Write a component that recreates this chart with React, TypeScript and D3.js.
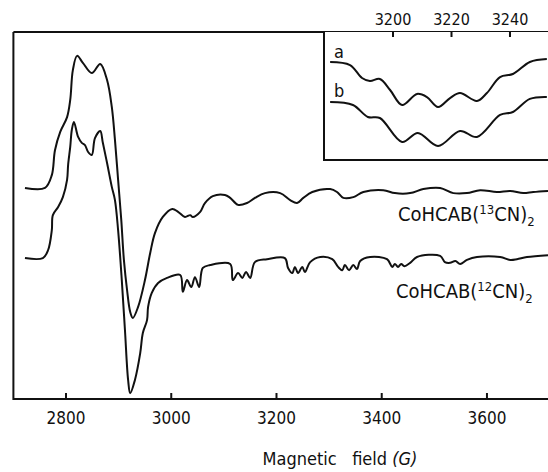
import * as d3 from 'd3';

// EPR spectra, field in gauss, signal in arbitrary units (0..100 across the frame)
const fieldTicks = [2800, 3000, 3200, 3400, 3600];
const insetTicks = [3200, 3220, 3240];

const spectrum13CN: [number, number][] = [
  [2722, 57.5], [2760, 57.5], [2773, 61.0], [2779, 67.8], [2789, 72.8], [2802, 76.8],
  [2808, 81.5], [2813, 89.6], [2821, 93.5], [2832, 91.6], [2849, 88.8], [2865, 91.3],
  [2878, 86.9], [2887, 79.6], [2893, 70.6], [2899, 59.7], [2905, 48.8], [2910, 37.9],
  [2916, 29.7], [2922, 23.7], [2927, 22.1], [2937, 25.1], [2950, 32.4], [2960, 39.8],
  [2969, 45.2], [2984, 49.6], [3002, 51.8], [3013, 51.0], [3026, 49.6], [3036, 50.1],
  [3041, 49.6], [3055, 51.0], [3064, 53.4], [3079, 55.3], [3102, 55.6], [3112, 54.8],
  [3127, 52.9], [3144, 53.4], [3159, 54.8], [3178, 56.1], [3207, 56.1], [3226, 54.2],
  [3239, 53.4], [3251, 54.8], [3268, 56.4], [3302, 57.2], [3315, 56.4], [3327, 54.8],
  [3346, 55.0], [3365, 56.4], [3403, 56.9], [3425, 56.1], [3454, 56.1], [3479, 57.2],
  [3511, 57.5], [3536, 56.1], [3562, 56.1], [3587, 56.9], [3619, 56.4], [3644, 56.7],
  [3669, 56.1], [3688, 56.4], [3716, 56.7],
];

const spectrum12CN: [number, number][] = [
  [2722, 38.4], [2756, 38.4], [2766, 40.6], [2773, 46.0], [2775, 50.1], [2785, 52.3],
  [2794, 55.0], [2802, 59.7], [2804, 63.8], [2808, 68.7], [2811, 73.3], [2815, 75.5],
  [2823, 71.4], [2830, 69.8], [2836, 69.2], [2842, 67.3], [2849, 66.5], [2855, 71.1],
  [2865, 73.0], [2870, 69.8], [2878, 64.3], [2887, 57.8], [2893, 54.2], [2899, 46.0],
  [2906, 32.4], [2912, 18.8], [2918, 5.2], [2922, 1.6], [2931, 5.2], [2941, 12.5],
  [2946, 18.0], [2954, 21.5], [2956, 25.1], [2963, 28.9], [2975, 31.6], [2992, 33.0],
  [3017, 33.8], [3022, 29.2], [3030, 32.4], [3038, 30.5], [3045, 33.2], [3053, 30.5],
  [3060, 35.7], [3074, 36.5], [3112, 36.8], [3117, 32.4], [3127, 34.3], [3135, 33.0],
  [3142, 34.6], [3150, 33.0], [3159, 37.3], [3182, 38.1], [3216, 38.4], [3222, 35.7],
  [3230, 34.3], [3235, 36.0], [3241, 34.3], [3249, 36.0], [3254, 34.6], [3264, 37.3],
  [3283, 38.7], [3306, 38.1], [3317, 36.0], [3325, 35.1], [3330, 36.5], [3338, 35.1],
  [3346, 36.5], [3353, 35.4], [3359, 37.6], [3378, 38.7], [3410, 38.1], [3420, 36.0],
  [3425, 36.8], [3431, 36.0], [3437, 36.8], [3443, 36.2], [3454, 37.1], [3467, 38.7],
  [3511, 39.0], [3520, 37.3], [3530, 37.1], [3540, 37.6], [3549, 36.8], [3562, 37.9],
  [3581, 38.7], [3625, 38.7], [3644, 37.9], [3657, 38.1], [3676, 38.7], [3716, 39.2],
];

const insetA: [number, number][] = [
  [3178.5, 76.6], [3185.3, 74.2], [3189.4, 64.1], [3192.1, 61.7], [3195.5, 63.3],
  [3199.0, 54.7], [3203.1, 43.0], [3208.2, 51.6], [3211.6, 49.2], [3215.4, 41.4],
  [3219.5, 48.4], [3222.9, 52.3], [3228.7, 46.1], [3232.1, 52.3], [3236.6, 64.8],
  [3241.0, 67.2], [3246.8, 76.6], [3252.6, 78.9],
];

const insetB: [number, number][] = [
  [3178.5, 45.3], [3186.3, 43.0], [3191.4, 33.6], [3195.5, 32.8], [3203.1, 14.1],
  [3208.5, 21.1], [3215.4, 10.9], [3222.9, 22.7], [3228.7, 18.0], [3236.6, 35.2],
  [3241.0, 37.5], [3246.8, 47.7], [3252.6, 49.2],
];

const W = 548;
const H = 472;
const FONT = "'DejaVu Sans Condensed', 'DejaVu Sans', sans-serif";

export default function App() {
  const x = d3.scaleLinear().domain([2700, 3716]).range([13.4, 548]);
  const y = d3.scaleLinear().domain([0, 100]).range([399, 32]);
  const xi = d3.scaleLinear().domain([3176.4, 3253]).range([324, 548]);
  const yi = d3.scaleLinear().domain([0, 100]).range([160, 32]);

  const line = d3.line<[number, number]>()
    .x(d => x(d[0])).y(d => y(d[1]))
    .curve(d3.curveCatmullRom.alpha(0.5));
  const lineInset = d3.line<[number, number]>()
    .x(d => xi(d[0])).y(d => yi(d[1]))
    .curve(d3.curveCatmullRom.alpha(0.5));

  const [x0, x1] = x.range();
  const [yb, yt] = y.range();
  const [xi0, xi1] = xi.range();
  const yib = yi(0);

  const stroke = { stroke: '#111', fill: 'none', strokeWidth: 2 };

  return (
    <svg width={W} height={H} style={{ position: 'absolute', left: 0, top: 0, background: '#fff' }}
      fontFamily={FONT} fontStretch="condensed">
      {/* frame */}
      <path d={`M${x0},${yt}V${yb}H${x1}`} {...stroke} />
      <path d={`M${x0},${yt}H${x1}`} {...stroke} />
      {fieldTicks.map(t => (
        <g key={t}>
          <line x1={x(t)} x2={x(t)} y1={yb} y2={yb - 6} stroke="#111" strokeWidth={2} />
          <text x={x(t)} y={yb + 25} textAnchor="middle" fontSize={17} fill="#111">{t}</text>
        </g>
      ))}
      <text x={340} y={465} textAnchor="middle" fontSize={18} fill="#111" style={{ whiteSpace: 'pre' }}>
        {'Magnetic   field '}<tspan fontStyle="italic">(G)</tspan>
      </text>

      {/* spectra */}
      <path d={line(spectrum13CN) ?? ''} {...stroke} />
      <path d={line(spectrum12CN) ?? ''} {...stroke} />

      <text x={398} y={221} fontSize={20} fill="#111">
        CoHCAB(<tspan fontSize={13} dy={-7}>13</tspan><tspan dy={7}>CN)</tspan><tspan fontSize={13} dy={5}>2</tspan>
      </text>
      <text x={396} y={298} fontSize={20} fill="#111">
        CoHCAB(<tspan fontSize={13} dy={-7}>12</tspan><tspan dy={7}>CN)</tspan><tspan fontSize={13} dy={5}>2</tspan>
      </text>

      {/* inset */}
      <rect x={xi0} y={yt} width={xi1 - xi0} height={yib - yt} fill="#fff" />
      <path d={`M${xi0},${yt}V${yib}H${xi1}`} {...stroke} />
      {insetTicks.map(t => (
        <g key={t}>
          <line x1={xi(t)} x2={xi(t)} y1={yt} y2={yt + 5} stroke="#111" strokeWidth={2} />
          <text x={xi(t)} y={yt - 7} textAnchor="middle" fontSize={16} fill="#111">{t}</text>
        </g>
      ))}
      <path d={lineInset(insetA) ?? ''} {...stroke} />
      <path d={lineInset(insetB) ?? ''} {...stroke} />
      <text x={334} y={58} fontSize={18} fill="#111">a</text>
      <text x={334} y={97} fontSize={18} fill="#111">b</text>
    </svg>
  );
}
